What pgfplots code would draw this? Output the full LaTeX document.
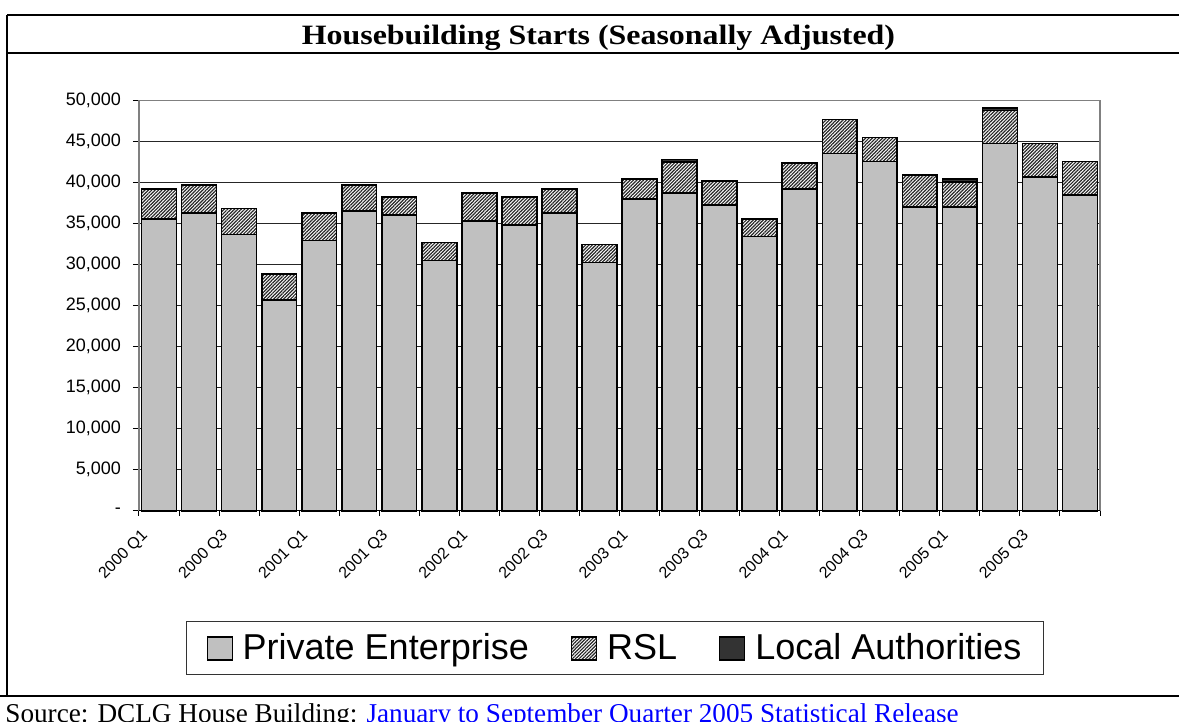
\documentclass[border=0pt]{standalone}
\usepackage{pgfplots}
\pgfplotsset{compat=1.18}
\usepackage{pgfplotstable}
\usepackage{graphicx}
\usepackage{fontspec}
\setmainfont{Liberation Serif}
\setsansfont{Liberation Sans}
\usetikzlibrary{patterns.meta}
\definecolor{pe}{HTML}{C0C0C0}
\definecolor{linkblue}{HTML}{0000FF}

\pgfplotstableread{
idx pe rsl la
0 35600 3630 0
1 36320 3390 0
2 33660 3190 0
3 25670 3190 0
4 32930 3390 0
5 36560 3150 0
6 36080 2180 0
7 30510 2180 0
8 35350 3390 0
9 34870 3390 0
10 36320 2900 0
11 30270 2180 0
12 38020 2420 0
13 38740 3800 300
14 37290 2900 0
15 33420 2180 0
16 39230 3150 0
17 43580 4110 0
18 42610 2900 0
19 37050 3870 0
20 37050 3070 300
21 44790 4040 300
22 40680 4110 0
23 38500 4110 0
}\housedata

\begin{document}
\begin{tikzpicture}
\useasboundingbox (0pt,0pt) rectangle (589.5pt,-361pt);
\begin{axis}[
  at={(69.5pt,-255.35pt)}, anchor=south west,
  scale only axis, width=480.5pt, height=205pt,
  ybar stacked, bar width=0.87,
  xmin=-0.5, xmax=23.5, ymin=0, ymax=50000,
  clip=false,
  scaled y ticks=false,
  axis line style={draw=black!50, line width=0.6pt},
  ymajorgrids, grid style={black!85, line width=0.5pt},
  tick align=outside,
  xtick pos=bottom, ytick pos=left,
  ytick={0,5000,...,50000},
  yticklabels={-,{5,000},{10,000},{15,000},{20,000},{25,000},{30,000},{35,000},{40,000},{45,000},{50,000}},
  major y tick style={black, line width=0.5pt},
  major tick length=3pt,
  yticklabel style={font=\sffamily\fontsize{9}{10}\selectfont, xshift=-2.5pt},
  xtick={0,2,...,22},
  xticklabels={2000 Q1,2000 Q3,2001 Q1,2001 Q3,2002 Q1,2002 Q3,2003 Q1,2003 Q3,2004 Q1,2004 Q3,2005 Q1,2005 Q3},
  major x tick style={draw=none},
  minor xtick={-0.5,0.5,...,23.5},
  minor x tick style={black, line width=0.5pt},
  minor tick length=2.5pt,
  xticklabel style={font=\sffamily\fontsize{8}{9}\selectfont, rotate=45, anchor=east, inner sep=1pt, xshift=-9.5pt, yshift=-1pt},
  legend columns=3,
  legend style={at={(0.4953,-0.3349)}, anchor=center, draw=black!80, line width=0.5pt,
    font=\sffamily\fontsize{18}{20}\selectfont, inner xsep=10pt, inner ysep=5pt,
    nodes={inner sep=1pt},
    /tikz/every odd column/.append style={column sep=4pt},
    /tikz/every even column/.append style={column sep=20pt}},
  legend image code/.code={\draw[#1, line width=0.6pt] (0pt,-6pt) rectangle (12.5pt,5.5pt);},
]
\addplot[fill=pe, draw=black, line width=0.8pt] table[x=idx, y=pe] {\housedata};
\addplot[fill=white, draw=black, line width=0.8pt,
  postaction={pattern={Lines[angle=45,distance=1.2pt,line width=0.6pt]}, pattern color=black!85}]
  table[x=idx, y=rsl] {\housedata};
\addplot[fill=black!80, draw=black, line width=0.8pt] table[x=idx, y=la] {\housedata};
\legend{Private Enterprise, RSL, Local Authorities}
\draw[black, line width=0.6pt] (rel axis cs:0,0) -- (rel axis cs:1,0);
\end{axis}
\node[anchor=base, inner sep=0pt, font=\fontsize{14}{16}\selectfont\bfseries] at (299.25pt,-22.5pt)
  {\scalebox{1.14}[1]{Housebuilding Starts (Seasonally Adjusted)}};
\draw[line width=1pt] (3.65pt,-7.65pt) -- (600pt,-7.65pt);
\draw[line width=1pt] (3.65pt,-26.35pt) -- (600pt,-26.35pt);
\draw[line width=0.9pt] (3.65pt,-7.65pt) -- (3.65pt,-348pt);
\draw[line width=1pt] (0pt,-348pt) -- (600pt,-348pt);
\node[anchor=base west, inner sep=0pt, font=\fontsize{13.6}{15}\selectfont] at (2.5pt,-361pt)
  {Source: DCLG House Building: \textcolor{linkblue}{January to September Quarter 2005 Statistical Release}};
\end{tikzpicture}
\end{document}
